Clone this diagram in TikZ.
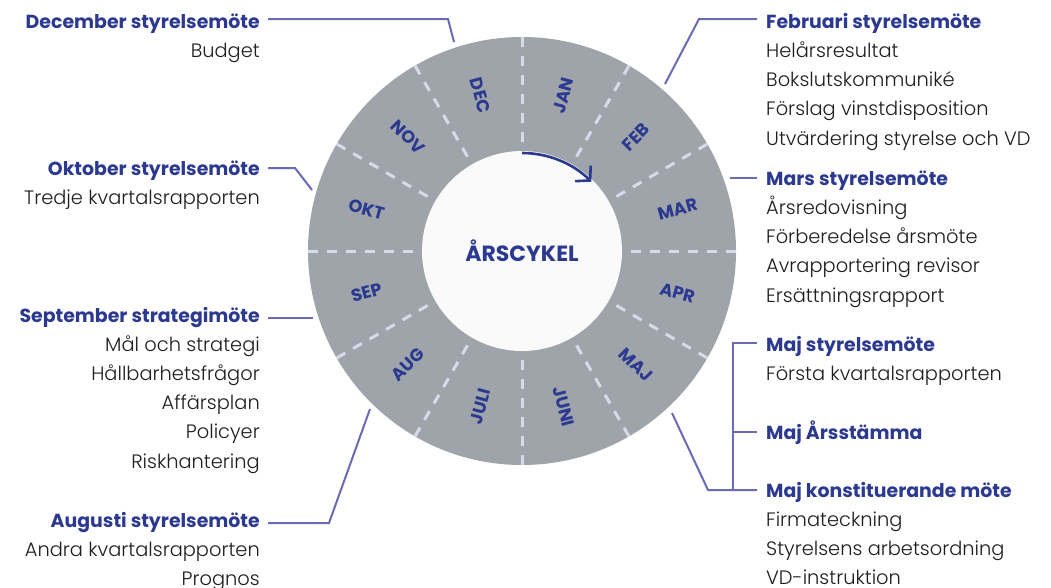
\documentclass[tikz,border=0pt]{standalone}
\usepackage{fontspec}
\setmainfont{Poppins}
\newfontfamily\lightfont{Poppins Light}
\usetikzlibrary{arrows.meta}
\definecolor{navy}{HTML}{2B3990}
\definecolor{connc}{HTML}{6B6BB5}
\definecolor{ringc}{HTML}{9EA4A9}
\definecolor{dashc}{HTML}{D9D9EC}
\definecolor{innerc}{HTML}{FAFAFA}
\definecolor{bodyc}{HTML}{1E1E1E}
\begin{document}
\begin{tikzpicture}[x=1pt,y=-1pt,
  head/.style={font=\bfseries\fontsize{18.9}{22}\selectfont, text=navy, inner sep=0pt},
  body/.style={font=\lightfont\fontsize{19.4}{22}\selectfont, text=bodyc, inner sep=0pt},
  conn/.style={draw=connc, line width=2pt},
  dashline/.style={draw=dashc, line width=3pt, dash pattern=on 10pt off 9pt},
  month/.style={font=\bfseries\fontsize{17.5}{20}\selectfont, text=navy, inner sep=0pt},
  titletext/.style={font=\bfseries\fontsize{22}{26}\selectfont, text=navy, inner sep=0pt},
  arr/.style={draw=navy, line width=2.6pt, -{Straight Barb[length=10pt,width=22pt]}}]
\useasboundingbox (0,0) rectangle (1051,587);
\fill[white] (0,0) rectangle (1051,587);

% ring
\begin{scope}[shift={(522,251)}, y=1pt]
  \fill[ringc] (0,0) circle[radius=214];
  \foreach \a in {0,30,...,330} \draw[dashline] (\a:214) -- (\a:100);
  \fill[innerc] (0,0) circle[radius=100];
  \node[titletext] (title) at (0,0) {ÅRSCYKEL};
  \foreach \m/\a/\r in {JAN/75/75, FEB/45/45, MAR/15/15, APR/-15/-15, MAJ/-45/-45, JUNI/-75/-75,
      JULI/-105/75, AUG/-135/45, SEP/-165/15, OKT/165/-15, NOV/135/-45, DEC/105/-75}
    \node[month, rotate=\r] (m\m) at (\a:161) {\m};
  \draw[arr] (90:98) arc[start angle=90, end angle=45, radius=98];
  \coordinate (decR) at (-68,209);
  \coordinate (oktR) at (-210,61);
  \coordinate (sepR) at (-209,-67);
  \coordinate (augR) at (-152,-158);
  \coordinate (febR) at (143,167);
  \coordinate (marR) at (208,73);
  \coordinate (majR) at (150,-162);
\end{scope}

% left side
\node[head, anchor=base east] (decH) at (260,28) {December styrelsemöte};
\node[body, anchor=base east] (decB1) at (260,57) {Budget};

\node[head, anchor=base east] (oktH) at (260,175) {Oktober styrelsemöte};
\node[body, anchor=base east] (oktB1) at (260,204) {Tredje kvartalsrapporten};

\node[head, anchor=base east] (sepH) at (260,322) {September strategimöte};
\foreach \t [count=\i] in {Mål och strategi, Hållbarhetsfrågor, Affärsplan, Policyer, Riskhantering}
  \node[body, anchor=base east] (sepB\i) at (260,{322+29.2*\i}) {\t};

\node[head, anchor=base east] (augH) at (260,527) {Augusti styrelsemöte};
\node[body, anchor=base east] (augB1) at (260,556) {Andra kvartalsrapporten};
\node[body, anchor=base east] (augB2) at (260,585) {Prognos};

% right side
\node[head, anchor=base west] (febH) at (766,28) {Februari styrelsemöte};
\foreach \t [count=\i] in {Helårsresultat, Bokslutskommuniké, Förslag vinstdisposition, Utvärdering styrelse och VD}
  \node[body, anchor=base west] (febB\i) at (766,{28+29.3*\i}) {\t};

\node[head, anchor=base west] (marH) at (766,185) {Mars styrelsemöte};
\foreach \t [count=\i] in {Årsredovisning, Förberedelse årsmöte, Avrapportering revisor, Ersättningsrapport}
  \node[body, anchor=base west] (marB\i) at (766,{185+29.3*\i}) {\t};

\node[head, anchor=base west] (maj1H) at (766,351) {Maj styrelsemöte};
\node[body, anchor=base west] (maj1B1) at (766,380) {Första kvartalsrapporten};
\node[head, anchor=base west] (maj2H) at (766,439) {Maj Årsstämma};
\node[head, anchor=base west] (maj3H) at (766,497) {Maj konstituerande möte};
\foreach \t [count=\i] in {Firmateckning, Styrelsens arbetsordning, VD-instruktion}
  \node[body, anchor=base west] (maj3B\i) at (766,{497+29.3*\i}) {\t};

% connectors
\draw[conn] ([shift={(8pt,9pt)}]decH.base east) -- (448,19) -- (decR);
\draw[conn] ([shift={(8pt,7pt)}]oktH.base east) -- (295,168) -- (oktR);
\draw[conn] ([shift={(8pt,4pt)}]sepH.base east) -- (sepR);
\draw[conn] ([shift={(8pt,4pt)}]augH.base east) -- (329,523) -- (augR);
\draw[conn] ([shift={(-9pt,9pt)}]febH.base west) -- (699,19) -- (febR);
\draw[conn] ([shift={(-9pt,7pt)}]marH.base west) -- (marR);
\draw[conn] ([shift={(-9pt,8pt)}]maj1H.base west) -- (733,343) -- (733,490);
\draw[conn] ([shift={(-9pt,7pt)}]maj2H.base west) -- (733,432);
\draw[conn] ([shift={(-9pt,7pt)}]maj3H.base west) -- (708,490) -- (majR);
\end{tikzpicture}
\end{document}
